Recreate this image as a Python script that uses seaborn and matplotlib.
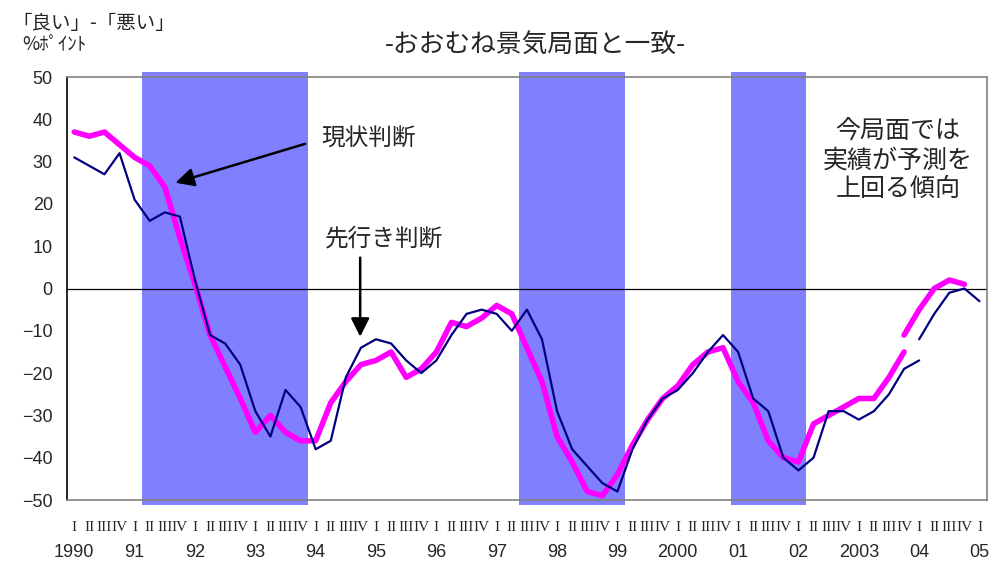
import numpy as np
import pandas as pd
import matplotlib
matplotlib.use("Agg")
import matplotlib.pyplot as plt
import matplotlib.transforms as mtransforms
import seaborn as sns

# 四半期 (1990 I ～ 2005 I)
years = ["1990", "91", "92", "93", "94", "95", "96", "97", "98", "99",
         "2000", "01", "02", "2003", "04", "05"]
quarter_labels = ["I", "II", "III", "IV"]
n_quarters = 61

# 現状判断 (旧系列: 1990 I ～ 2004 I)
genjo_old = [37, 36, 37, 34, 31, 29, 24, 12, 1, -11,
             -18.5, -26, -34, -30, -34, -36, -36, -27, -22, -18,
             -17, -15, -21, -19, -15, -8, -9, -7, -4, -6,
             -14, -22, -35, -41, -48, -49, -44, -37, -31, -26,
             -23, -18, -15, -14, -22, -27, -36, -40, -41, -32,
             -30, -28, -26, -26, -21, -15]
# 現状判断 (新系列: 2004 I ～ 2004 IV)
genjo_new = [-11, -5, 0, 2, 1]
genjo_new_start = 55

# 先行き判断 (旧系列: 1990 I ～ 2004 II)
saki_old = [31, 29, 27, 32, 21, 16, 18, 17, 2, -11,
            -13, -18, -29, -35, -24, -28, -38, -36, -21, -14,
            -12, -13, -17, -20, -17, -11, -6, -5, -6, -10,
            -5, -12, -29, -38, -42, -46, -48, -38, -31, -26,
            -24, -20, -15, -11, -15, -26, -29, -40, -43, -40,
            -29, -29, -31, -29, -25, -19, -17]
# 先行き判断 (新系列: 2004 II ～ 2005 I)
saki_new = [-12, -6, -1, 0, -3]
saki_new_start = 56

# 景気後退局面 (四半期インデックス)
recession_start = [5, 30, 44]
recession_end = [15, 36, 48]

# フォント
sns.set_style("white")
plt.rcParams['font.family'] = ['Noto Sans CJK JP', 'DejaVu Sans']

fig = plt.figure(figsize=(9.93, 5.63), dpi=100)
ax = fig.add_axes([0.0672, 0.1119, 0.9268, 0.7513])

# 後退局面の網掛け
for s, e in zip(recession_start, recession_end):
    ax.axvspan(s - 0.5, e + 0.5, ymin=-0.012, ymax=1.013, color="#8080FF",
               lw=0, zorder=0, clip_on=False)

ax.axhline(0, color="black", lw=0.9, zorder=1)

df_go = pd.DataFrame({"q": np.arange(len(genjo_old)), "v": genjo_old})
df_gn = pd.DataFrame({"q": np.arange(len(genjo_new)) + genjo_new_start, "v": genjo_new})
df_so = pd.DataFrame({"q": np.arange(len(saki_old)), "v": saki_old})
df_sn = pd.DataFrame({"q": np.arange(len(saki_new)) + saki_new_start, "v": saki_new})

for d in [df_go, df_gn]:
    sns.lineplot(data=d, x="q", y="v", ax=ax, color="#FF00FF", lw=4.0,
                 solid_capstyle="round", zorder=3)
for d in [df_so, df_sn]:
    sns.lineplot(data=d, x="q", y="v", ax=ax, color="#000080", lw=1.6, zorder=4)

ax.set_xlim(-0.5, n_quarters - 0.5)
ax.set_ylim(-50, 50)
ax.set_yticks(np.arange(-50, 51, 10))
ax.set_xlabel("")
ax.set_ylabel("")

ax.set_xticks(np.arange(n_quarters))
ax.set_xticklabels([quarter_labels[i % 4] for i in range(n_quarters)],
                   family="Liberation Serif", fontsize=11)
ax.tick_params(axis="x", length=0, pad=15)
ax.tick_params(axis="y", direction="in", length=5, width=1, labelsize=13, pad=10,
               color="black")
for lab in ax.get_yticklabels():
    lab.set_family(["Liberation Sans", "DejaVu Sans"])

trans = mtransforms.blended_transform_factory(ax.transData, ax.transAxes)
for i, y in enumerate(years):
    ax.text(i * 4, -0.125, y, transform=trans, ha="center", va="center",
            fontsize=13, family=["Liberation Sans", "DejaVu Sans"])

for side in ["top", "right", "bottom"]:
    ax.spines[side].set_color("#808080")
    ax.spines[side].set_linewidth(1.2)
ax.spines["left"].set_color("black")
ax.spines["left"].set_linewidth(1.2)

# 注記
ax.annotate("", xy=(6.7, 25), xytext=(15.3, 34.2),
            arrowprops=dict(arrowstyle="-|>", color="black", lw=1.8,
                            mutation_scale=28, shrinkA=0, shrinkB=0))
ax.text(16.4, 35.3, "現状判断", fontsize=17, ha="left", va="center")

ax.annotate("", xy=(18.95, -11.4), xytext=(18.95, 7.3),
            arrowprops=dict(arrowstyle="-|>", color="black", lw=1.8,
                            mutation_scale=28, shrinkA=0, shrinkB=0))
ax.text(16.6, 11.6, "先行き判断", fontsize=17, ha="left", va="center")

ax.text(54.6, 30.3, "今局面では\n実績が予測を\n上回る傾向", fontsize=18,
        ha="center", va="center", linespacing=1.12)

fig.text(0.539, 0.92, "-おおむね景気局面と一致-", fontsize=18.5,
         ha="center", va="center")
fig.text(0.012, 0.958, "「良い」-「悪い」", fontsize=14, ha="left", va="center")
fig.text(0.022, 0.92, "%ﾎﾟｲﾝﾄ", fontsize=13.5, ha="left", va="center")

fig.savefig("out.png", dpi=100)
